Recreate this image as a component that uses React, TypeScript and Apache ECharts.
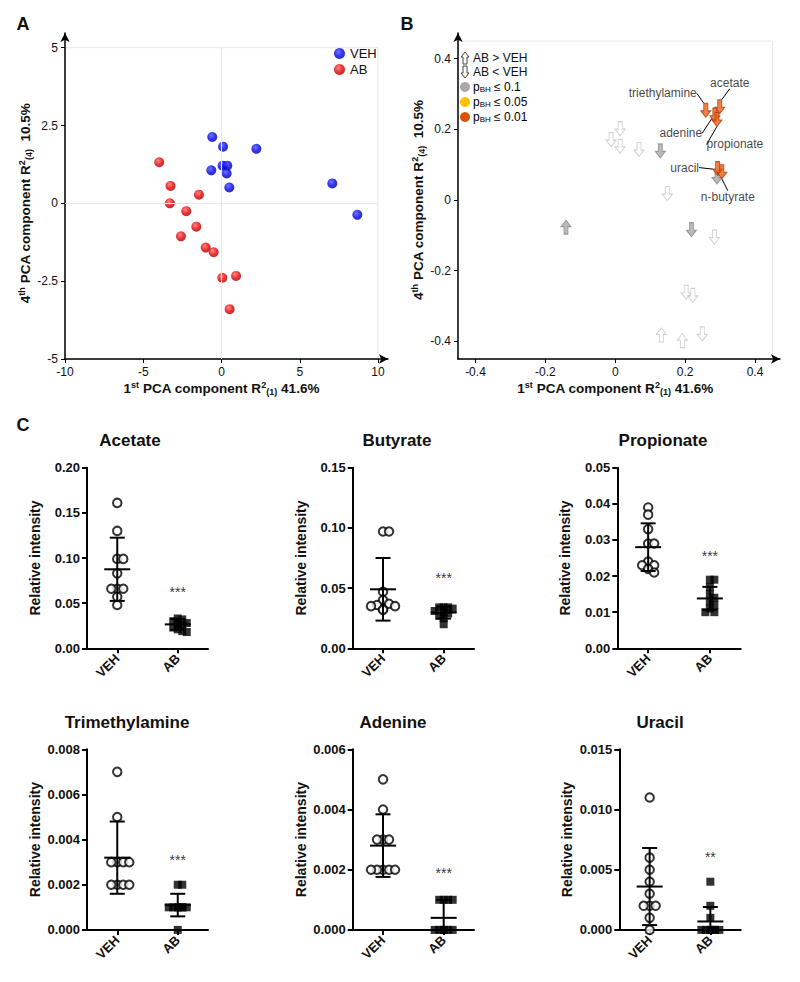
import React, { useEffect, useRef } from 'react';
import * as echarts from 'echarts';

const FONT = '"Liberation Sans", Arial, Helvetica, sans-serif';
const INK = '#111111';

// ---------- Panel A: PCA scores ----------
const vehPC1 = [-0.59, 0.1, 2.23, 0.07, 0.37, -0.65, 0.33, 0.5, 7.08, 8.68];
const vehPC4 = [2.13, 1.82, 1.75, 1.21, 1.21, 1.06, 0.96, 0.51, 0.64, -0.37];
const abPC1 = [-3.98, -3.26, -1.44, -3.3, -2.25, -1.61, -2.59, -1.01, -0.5, 0.05, 0.93, 0.52];
const abPC4 = [1.32, 0.56, 0.28, 0.0, -0.25, -0.75, -1.06, -1.42, -1.57, -2.39, -2.33, -3.4];

// ---------- Panel B: loadings ----------
const loadPC1 = [0.014, -0.012, 0.014, 0.068, 0.149, 0.284, 0.203, 0.222, 0.249, 0.132, 0.192, 0.129, 0.218, 0.291, -0.141, 0.259, 0.299, 0.285, 0.291, 0.293, 0.305];
const loadPC4 = [0.202, 0.171, 0.152, 0.143, 0.018, -0.105, -0.261, -0.27, -0.379, -0.382, -0.398, 0.139, -0.084, 0.065, -0.077, 0.254, 0.264, 0.24, 0.228, 0.089, 0.08];
const loadDir = ['down', 'down', 'down', 'down', 'down', 'down', 'down', 'down', 'down', 'up', 'up', 'down', 'down', 'down', 'up', 'down', 'down', 'down', 'down', 'down', 'down'];
const loadSig = [0, 0, 0, 0, 0, 0, 0, 0, 0, 0, 0, 1, 1, 1, 1, 3, 3, 3, 3, 3, 3];
const loadName = ['', '', '', '', '', '', '', '', '', '', '', '', '', '', '', 'triethylamine', 'acetate', 'adenine', 'propionate', 'uracil', 'n-butyrate'];
const loadTicks = [-0.4, -0.2, 0, 0.2, 0.4];

// ---------- Panel C: metabolites ----------
const metabolites = ['Acetate', 'Butyrate', 'Propionate', 'Trimethylamine', 'Adenine', 'Uracil'];
const groups = ['VEH', 'AB'];
const vehValues = [
  [0.161, 0.13, 0.099, 0.099, 0.083, 0.066, 0.066, 0.066, 0.057, 0.048],
  [0.097, 0.097, 0.047, 0.04, 0.037, 0.036, 0.035, 0.035, 0.032, 0.032],
  [0.039, 0.037, 0.033, 0.029, 0.029, 0.024, 0.023, 0.023, 0.022, 0.021],
  [0.007, 0.005, 0.003, 0.003, 0.003, 0.003, 0.002, 0.002, 0.002, 0.002],
  [0.005, 0.004, 0.003, 0.003, 0.003, 0.002, 0.002, 0.002, 0.002, 0.002],
  [0.011, 0.006, 0.005, 0.004, 0.003, 0.002, 0.002, 0.002, 0.001, 0.0],
];
const abValues = [
  [0.033, 0.032, 0.03, 0.028, 0.027, 0.025, 0.023, 0.021, 0.019, 0.018],
  [0.034, 0.034, 0.034, 0.033, 0.031, 0.03, 0.029, 0.027, 0.025, 0.02],
  [0.019, 0.019, 0.017, 0.015, 0.014, 0.013, 0.012, 0.011, 0.01, 0.01],
  [0.002, 0.002, 0.001, 0.001, 0.001, 0.001, 0.001, 0.001, 0.001, 0.0],
  [0.001, 0.001, 0.001, 0.001, 0, 0, 0, 0, 0, 0],
  [0.004, 0.002, 0.001, 0, 0, 0, 0, 0, 0, 0],
];
const vehMean = [0.0875, 0.049, 0.028, 0.0032, 0.0028, 0.0036];
const vehSD = [0.035, 0.026, 0.0066, 0.0016, 0.00104, 0.0032];
const abMean = [0.0265, 0.0297, 0.0138, 0.0011, 0.0004, 0.0007];
const abSD = [0.006, 0.005, 0.0032, 0.0005, 0.0006, 0.0012];
const starY = [0.066, 0.061, 0.0263, 0.00325, 0.002, 0.0063];
const starText = ['***', '***', '***', '***', '***', '**'];
const yMax = [0.2, 0.15, 0.05, 0.008, 0.006, 0.015];
const yStep = [0.05, 0.05, 0.01, 0.002, 0.002, 0.005];
const yDecimals = [2, 2, 2, 3, 3, 3];

// layout (pixels)
const cGrids = [
  { left: 87, top: 467.7, width: 121 },
  { left: 352.7, top: 467.7, width: 121.3 },
  { left: 617.3, top: 467.7, width: 123.4 },
  { left: 87, top: 749.3, width: 121 },
  { left: 352.7, top: 749.3, width: 121.3 },
  { left: 619.3, top: 749.3, width: 121.4 },
];
const cH = 180.6;
const cTitlePos = [[130, 440], [397, 440], [663, 440], [127, 722], [393, 722], [660, 722]];
const labelOffset: Record<string, [number, number]> = {
  triethylamine: [-43, -17],
  acetate: [10, -24],
  adenine: [-34, 18],
  propionate: [18, 25],
  uracil: [-33, -1],
  'n-butyrate': [6, 25],
};

const DOWN = 'path://M3,0L7,0L7,7L10,7L5,13L0,7L3,7Z';
const UP = 'path://M5,0L10,6L7,6L7,13L3,13L3,6L0,6Z';
const sigStyle: Record<number, { color: string; borderColor: string }> = {
  0: { color: '#ffffff', borderColor: '#c6c6c6' },
  1: { color: '#a9a9a9', borderColor: '#8a8a8a' },
  2: { color: '#ffc000', borderColor: '#c89600' },
  3: { color: '#e8621a', borderColor: '#b23a08' },
};

// simple bee-swarm: spread tied points sideways, with a limited number of slots
function swarm(vals: number[], center: number, pxY: number, pxX: number, step: number, slots: number) {
  const placed: { k: number; py: number }[] = [];
  const order = [0, 1, -1, 2, -2, 3, -3].slice(0, slots);
  return vals.map((v) => {
    const py = v * pxY;
    const near = placed.filter((p) => Math.abs(p.py - py) < step * 1.2);
    let chosen = order.find((k) => !near.some((p) => p.k === k));
    if (chosen === undefined) chosen = order[near.length % order.length];
    placed.push({ k: chosen, py });
    return [center + (chosen * step) / pxX, v];
  });
}

const titleRich = {
  n: { fontSize: 13.5, fontWeight: 'bold', fontFamily: FONT, color: INK, lineHeight: 16 },
  sup: { fontSize: 9, fontWeight: 'bold', fontFamily: FONT, color: INK, verticalAlign: 'top', lineHeight: 10 },
  sub: { fontSize: 9, fontWeight: 'bold', fontFamily: FONT, color: INK, verticalAlign: 'bottom', lineHeight: 10 },
};

function buildOption() {
  const xAxis: any[] = [];
  const yAxis: any[] = [];
  const grid: any[] = [];
  const series: any[] = [];
  const graphic: any[] = [];

  const tickLabel = { fontSize: 12, color: INK, fontFamily: FONT };
  const arrowLine = { show: true, onZero: false, symbol: ['none', 'arrow'], symbolSize: [7, 9], lineStyle: { color: '#000', width: 1.5 } };
  const hiddenAxis = (gi: number) => ({
    gridIndex: gi, type: 'value', min: 0, max: 1, axisLine: arrowLine,
    axisTick: { show: false }, axisLabel: { show: false }, splitLine: { show: false },
  });

  // ---- Panel A ----
  grid.push({ left: 65, top: 47.7, width: 313, height: 311.3, show: true, borderColor: '#e6e6e6', borderWidth: 1 });
  grid.push({ left: 65, top: 33, width: 323, height: 326 });
  xAxis.push({
    gridIndex: 0, type: 'value', min: -10, max: 10, interval: 5,
    axisLine: { show: false, onZero: false }, axisTick: { show: true, length: 4, lineStyle: { color: '#000' } },
    axisLabel: { ...tickLabel, margin: 7 }, splitLine: { show: false },
    name: '{n|1}{sup|st}{n| PCA component R}{sup|2}{sub|(1)}{n| 41.6%}',
    nameLocation: 'middle', nameGap: 21, nameTextStyle: { rich: titleRich },
  });
  yAxis.push({
    gridIndex: 0, type: 'value', min: -5, max: 5, interval: 2.5,
    axisLine: { show: false, onZero: false }, axisTick: { show: true, length: 4, lineStyle: { color: '#000' } },
    axisLabel: { ...tickLabel, margin: 7 }, splitLine: { show: false },
    name: '{n|4}{sup|th}{n| PCA component R}{sup|2}{sub|(4)}{n|  10.5%}',
    nameLocation: 'middle', nameGap: 32, nameRotate: 90, nameTextStyle: { rich: titleRich },
  });
  xAxis.push(hiddenAxis(1));
  yAxis.push(hiddenAxis(1));

  series.push({
    type: 'scatter', xAxisIndex: 0, yAxisIndex: 0, data: [], z: 1,
    markLine: {
      silent: true, symbol: 'none', label: { show: false },
      lineStyle: { color: '#e8e8e8', width: 1, type: 'solid' },
      data: [{ xAxis: 0 }, { yAxis: 0 }],
    },
  });
  const ball = (c0: string, c1: string, c2: string) => ({
    type: 'radial', x: 0.4, y: 0.35, r: 0.7,
    colorStops: [{ offset: 0, color: c0 }, { offset: 0.55, color: c1 }, { offset: 1, color: c2 }],
  });
  series.push({
    name: 'VEH', type: 'scatter', xAxisIndex: 0, yAxisIndex: 0, symbolSize: 10, z: 3,
    itemStyle: { color: ball('#4d4dff', '#0000e8', '#00009c') },
    data: vehPC1.map((x, i) => [x, vehPC4[i]]),
  });
  series.push({
    name: 'AB', type: 'scatter', xAxisIndex: 0, yAxisIndex: 0, symbolSize: 10, z: 3,
    itemStyle: { color: ball('#ff6a6a', '#e80000', '#9c0000') },
    data: abPC1.map((x, i) => [x, abPC4[i]]),
  });

  // ---- Panel B ----
  grid.push({ left: 458, top: 41, width: 314.5, height: 318, show: true, borderColor: '#e6e6e6', borderWidth: 1 });
  grid.push({ left: 458, top: 33, width: 322, height: 326 });
  const fmtB = (v: number) => (Math.abs(v) < 1e-9 ? '0' : v.toFixed(1));
  xAxis.push({
    gridIndex: 2, type: 'value', min: -0.45, max: 0.45,
    axisLine: { show: false, onZero: false },
    axisTick: { show: true, length: 4, lineStyle: { color: '#000' }, customValues: loadTicks },
    axisLabel: { ...tickLabel, margin: 7, customValues: loadTicks, formatter: fmtB }, splitLine: { show: false },
    name: '{n|1}{sup|st}{n| PCA component R}{sup|2}{sub|(1)}{n| 41.6%}',
    nameLocation: 'middle', nameGap: 21, nameTextStyle: { rich: titleRich },
  });
  yAxis.push({
    gridIndex: 2, type: 'value', min: -0.45, max: 0.45,
    axisLine: { show: false, onZero: false },
    axisTick: { show: true, length: 4, lineStyle: { color: '#000' }, customValues: loadTicks },
    axisLabel: { ...tickLabel, margin: 7, customValues: loadTicks, formatter: fmtB }, splitLine: { show: false },
    name: '{n|4}{sup|th}{n| PCA component R}{sup|2}{sub|(4)}{n|  10.5%}',
    nameLocation: 'middle', nameGap: 25, nameRotate: 90, nameTextStyle: { rich: titleRich },
  });
  xAxis.push(hiddenAxis(3));
  yAxis.push(hiddenAxis(3));

  series.push({
    type: 'scatter', xAxisIndex: 2, yAxisIndex: 2, symbolSize: [10, 14], z: 3,
    label: { show: false, position: 'inside', fontSize: 12, color: INK, fontFamily: FONT },
    labelLine: { show: true, lineStyle: { color: '#000', width: 1 } },
    labelLayout: (p: any) => {
      const o = labelOffset[loadName[p.dataIndex]];
      return o ? { dx: o[0], dy: o[1] } : {};
    },
    data: loadPC1.map((x, i) => {
      const st = sigStyle[loadSig[i]];
      const item: any = {
        value: [x, loadPC4[i]],
        symbol: loadDir[i] === 'up' ? UP : DOWN,
        itemStyle: { color: st.color, borderColor: st.borderColor, borderWidth: 1 },
      };
      if (loadName[i]) item.label = { show: true, formatter: loadName[i] };
      else item.labelLine = { show: false };
      return item;
    }),
  });

  // ---- Panel C ----
  metabolites.forEach((name, i) => {
    const gi = 4 + i;
    const g = cGrids[i];
    grid.push({ left: g.left, top: g.top, width: g.width, height: cH });
    xAxis.push({
      gridIndex: gi, type: 'value', min: 0, max: 4,
      axisLine: { show: true, onZero: false, lineStyle: { color: '#000', width: 2 } },
      axisTick: { show: true, length: 5, lineStyle: { color: '#000', width: 2 }, customValues: [1, 3] },
      axisLabel: {
        customValues: [1, 3], rotate: 45, margin: 8, fontSize: 13, fontWeight: 'bold', color: INK, fontFamily: FONT,
        formatter: (v: number) => (v < 2 ? groups[0] : groups[1]),
      },
      splitLine: { show: false },
    });
    yAxis.push({
      gridIndex: gi, type: 'value', min: 0, max: yMax[i], interval: yStep[i],
      axisLine: { show: true, onZero: false, lineStyle: { color: '#000', width: 2 } },
      axisTick: { show: true, length: 5, lineStyle: { color: '#000', width: 2 } },
      axisLabel: { margin: 7, fontSize: 13, fontWeight: 'bold', color: INK, fontFamily: FONT, formatter: (v: number) => v.toFixed(yDecimals[i]) },
      splitLine: { show: false },
      name: 'Relative intensity', nameLocation: 'middle', nameRotate: 90, nameGap: 45,
      nameTextStyle: { fontSize: 14, fontWeight: 'bold', color: INK, fontFamily: FONT },
    });
    const pxY = cH / yMax[i];
    const pxX = g.width / 4;
    series.push({
      name: name + ' VEH', type: 'scatter', xAxisIndex: gi, yAxisIndex: gi, z: 3,
      symbol: 'circle', symbolSize: 8.5,
      itemStyle: { color: '#ffffff', borderColor: '#000', borderWidth: 2 },
      data: swarm(vehValues[i], 1, pxY, pxX, 6, 5),
    });
    series.push({
      name: name + ' AB', type: 'scatter', xAxisIndex: gi, yAxisIndex: gi, z: 3,
      symbol: 'rect', symbolSize: 8,
      itemStyle: { color: '#000' },
      data: swarm(abValues[i], 3, pxY, pxX, 4.5, 5),
    });
    series.push({
      type: 'custom', xAxisIndex: gi, yAxisIndex: gi, z: 4, clip: false,
      encode: { x: 0, y: 1 },
      data: [[1, vehMean[i], vehSD[i]], [3, abMean[i], abSD[i]]],
      renderItem: (params: any, api: any) => {
        const x = api.value(0), m = api.value(1), s = api.value(2);
        const c = api.coord([x, m]);
        const t = api.coord([x, m + s]);
        const lo = m - s;
        const b = api.coord([x, Math.max(lo, 0)]);
        const style = { stroke: '#000', lineWidth: 2, fill: null };
        const children: any[] = [
          { type: 'line', shape: { x1: c[0] - 13, y1: c[1], x2: c[0] + 13, y2: c[1] }, style },
          { type: 'line', shape: { x1: c[0], y1: t[1], x2: c[0], y2: b[1] }, style },
          { type: 'line', shape: { x1: c[0] - 7.5, y1: t[1], x2: c[0] + 7.5, y2: t[1] }, style },
        ];
        if (lo > 0) children.push({ type: 'line', shape: { x1: c[0] - 7.5, y1: b[1], x2: c[0] + 7.5, y2: b[1] }, style });
        return { type: 'group', children };
      },
    });
    series.push({
      type: 'scatter', xAxisIndex: gi, yAxisIndex: gi, z: 5, symbolSize: 1,
      itemStyle: { color: 'rgba(0,0,0,0)' },
      label: { show: true, position: 'inside', offset: [0, 3], formatter: starText[i], fontSize: 14, color: '#000', fontFamily: FONT },
      data: [[3, starY[i]]],
    });
    graphic.push({
      type: 'text', x: cTitlePos[i][0], y: cTitlePos[i][1],
      style: { text: name, font: `bold 17px ${FONT}`, fill: INK, textAlign: 'center', textVerticalAlign: 'middle' },
    });
  });

  // panel letters
  [['A', 23, 24], ['B', 407, 24], ['C', 23, 425]].forEach(([t, x, y]) => {
    graphic.push({ type: 'text', x, y, style: { text: t, font: `bold 18px ${FONT}`, fill: INK, textAlign: 'center', textVerticalAlign: 'middle' } });
  });

  // Panel B legend
  const lx = 465, tx = 473;
  graphic.push({ type: 'polygon', shape: { points: [[lx, 52], [lx + 4, 57], [lx + 2, 57], [lx + 2, 64], [lx - 2, 64], [lx - 2, 57], [lx - 4, 57]] }, style: { fill: '#fff', stroke: '#444', lineWidth: 1 } });
  graphic.push({ type: 'polygon', shape: { points: [[lx - 2, 66], [lx + 2, 66], [lx + 2, 73], [lx + 4, 73], [lx, 78], [lx - 4, 73], [lx - 2, 73]] }, style: { fill: '#fff', stroke: '#444', lineWidth: 1 } });
  graphic.push({ type: 'text', x: tx, y: 58, style: { text: 'AB > VEH', font: `12px ${FONT}`, fill: INK, textVerticalAlign: 'middle' } });
  graphic.push({ type: 'text', x: tx, y: 72, style: { text: 'AB < VEH', font: `12px ${FONT}`, fill: INK, textVerticalAlign: 'middle' } });
  const legRich = {
    p: { fontSize: 12, fontFamily: FONT, color: INK },
    s: { fontSize: 8, fontFamily: FONT, color: INK, verticalAlign: 'bottom', lineHeight: 8 },
  };
  [['#a8a8a8', '0.1', 87], ['#ffc000', '0.05', 102], ['#d9540b', '0.01', 117]].forEach(([c, v, y]) => {
    graphic.push({ type: 'circle', shape: { cx: lx, cy: y, r: 5 }, style: { fill: c } });
    graphic.push({ type: 'text', x: tx, y: y, style: { text: `{p|p}{s|BH}{p| \u2264 ${v}}`, rich: legRich, textVerticalAlign: 'middle' } });
  });

  return {
    animation: false,
    backgroundColor: '#ffffff',
    textStyle: { fontFamily: FONT },
    legend: {
      data: ['VEH', 'AB'], orient: 'vertical', left: 334, top: 47, itemWidth: 11, itemHeight: 11, itemGap: 3,
      padding: 0, icon: 'circle', textStyle: { fontSize: 13, color: INK, fontFamily: FONT },
    },
    grid, xAxis, yAxis, series, graphic,
  };
}

export default function App() {
  const ref = useRef<HTMLDivElement>(null);
  useEffect(() => {
    if (!ref.current) return;
    const chart = echarts.init(ref.current, null, { renderer: 'svg' });
    chart.setOption(buildOption() as any);
    return () => chart.dispose();
  }, []);
  return <div ref={ref} style={{ position: 'absolute', left: 0, top: 0, width: 800, height: 982, background: '#fff' }} />;
}
